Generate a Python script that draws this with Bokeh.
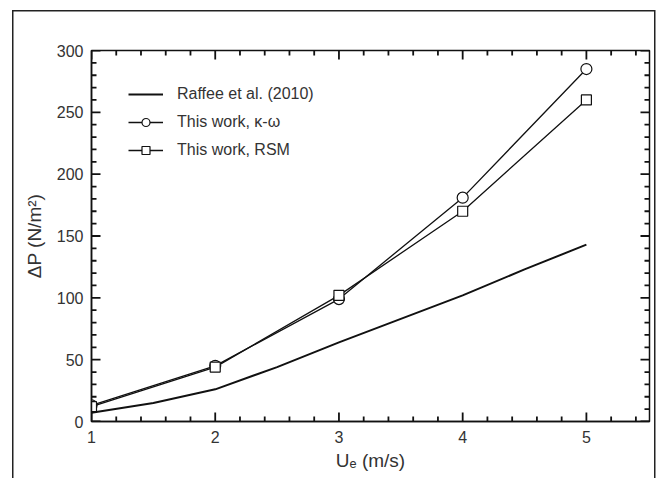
from bokeh.plotting import figure
from bokeh.models import (Range1d, SingleIntervalTicker, LinearAxis, Legend, LegendItem)
from bokeh.embed import file_html
from bokeh.resources import INLINE

# ---- data ----
ue_raffee = [1.0, 1.5, 2.0, 2.5, 3.0, 3.5, 4.0, 4.5, 5.0]
dp_raffee = [7, 15, 26, 44, 64, 83, 102, 123, 143]
ue_work = [1, 2, 3, 4, 5]
dp_kw = [13, 45, 99, 181, 285]
dp_rsm = [12, 44, 102, 170, 260]
x_ticks = [1, 2, 3, 4, 5]
y_ticks = [0, 50, 100, 150, 200, 250, 300]

# ---- geometry ----
W, H = 661, 478
FL, FT, FW, FH = 91, 50, 558, 371
XMIN, XMAX, YMIN, YMAX = 1.0, 5.51, 0.0, 300.0
INK = "#111111"
TXT = "#333333"
FONT = "Liberation Sans"
XPX = FW / (XMAX - XMIN)   # px per x unit
YPX = FH / (YMAX - YMIN)   # px per y unit

p = figure(width=W, height=H, frame_width=FW, frame_height=FH,
           min_border_left=FL, min_border_top=FT,
           min_border_right=W - FL - FW, min_border_bottom=H - FT - FH,
           x_range=Range1d(XMIN, XMAX), y_range=Range1d(YMIN, YMAX),
           x_axis_location=None, y_axis_location=None,
           output_backend="svg", toolbar_location=None)
p.grid.visible = False
p.outline_line_color = INK
p.outline_line_width = 1.5
p.background_fill_color = "white"
p.border_fill_color = None
# outer panel box (left, top, right edges; bottom lies below the window)
line = "linear-gradient(#222222,#222222)"
p.styles = {
    "background": (f"{line} 12px 10px / 1.5px 100% no-repeat, "
                   f"{line} 12px 10px / 643px 1.5px no-repeat, "
                   f"{line} 653.5px 10px / 1.5px 100% no-repeat, white"),
}

def style_axis(ax, standoff=8):
    ax.axis_line_color = INK
    ax.axis_line_width = 1.5
    ax.major_tick_in = 0
    ax.major_tick_out = 0
    ax.minor_tick_in = 0
    ax.minor_tick_out = 0
    ax.major_tick_line_color = None
    ax.minor_tick_line_color = None
    ax.major_label_text_font = FONT
    ax.major_label_text_font_size = "16px"
    ax.major_label_text_color = TXT
    ax.major_label_standoff = standoff
    ax.axis_label_text_font = FONT
    ax.axis_label_text_font_size = "19px"
    ax.axis_label_text_font_style = "normal"
    ax.axis_label_text_color = TXT

bottom = LinearAxis(ticker=SingleIntervalTicker(interval=x_ticks[1] - x_ticks[0]))
style_axis(bottom, 9)
bottom.axis_label = "Uₑ (m/s)"
bottom.axis_label_standoff = 4
left = LinearAxis(ticker=SingleIntervalTicker(interval=y_ticks[1] - y_ticks[0]))
style_axis(left, 8)
left.axis_label = "ΔP (N/m²)"
left.axis_label_standoff = 9
p.add_layout(bottom, "below")
p.add_layout(left, "left")

# ---- inward tick marks on all four sides ----
x_minor = [t + k * 0.2 for t in x_ticks for k in range(1, 5) if t + k * 0.2 < XMAX]
y_minor = [t + k * 10 for t in y_ticks[:-1] for k in range(1, 5)]
MAJ, MIN = 9, 5
for xs, ln in ((x_ticks, MAJ), (x_minor, MIN)):
    d = ln / YPX
    n = len(xs)
    p.segment(x0=xs, y0=[YMIN] * n, x1=xs, y1=[YMIN + d] * n, line_color=INK, line_width=1.8)
    p.segment(x0=xs, y0=[YMAX] * n, x1=xs, y1=[YMAX - d] * n, line_color=INK, line_width=1.8)
for ys, ln in ((y_ticks, MAJ), (y_minor, MIN)):
    d = ln / XPX
    n = len(ys)
    p.segment(x0=[XMIN] * n, y0=ys, x1=[XMIN + d] * n, y1=ys, line_color=INK, line_width=1.8)
    p.segment(x0=[XMAX] * n, y0=ys, x1=[XMAX - d] * n, y1=ys, line_color=INK, line_width=1.8)

# ---- series ----
r_raffee = p.line(ue_raffee, dp_raffee, line_color=INK, line_width=2.0)
l_kw = p.line(ue_work, dp_kw, line_color=INK, line_width=1.3)
s_kw = p.scatter(ue_work, dp_kw, marker="circle", size=11, fill_color="white",
                 line_color=INK, line_width=1.2)
l_rsm = p.line(ue_work, dp_rsm, line_color=INK, line_width=1.3)
s_rsm = p.scatter(ue_work, dp_rsm, marker="square", size=10, fill_color="white",
                  line_color=INK, line_width=1.2)

legend = Legend(items=[
    LegendItem(label="Raffee et al. (2010)", renderers=[r_raffee]),
    LegendItem(label="This work, κ-ω", renderers=[l_kw, s_kw]),
    LegendItem(label="This work, RSM", renderers=[l_rsm, s_rsm]),
], location=(37, FH - 34 - 76))
legend.padding = 0
legend.margin = 0
legend.spacing = 8
legend.glyph_width = 35
legend.glyph_height = 20
legend.label_height = 20
legend.label_standoff = 14
legend.label_text_font = FONT
legend.label_text_font_size = "16px"
legend.label_text_color = TXT
legend.border_line_color = None
legend.background_fill_alpha = 0
p.add_layout(legend, "center")

open("out.html", "w").write(file_html(p, INLINE))
